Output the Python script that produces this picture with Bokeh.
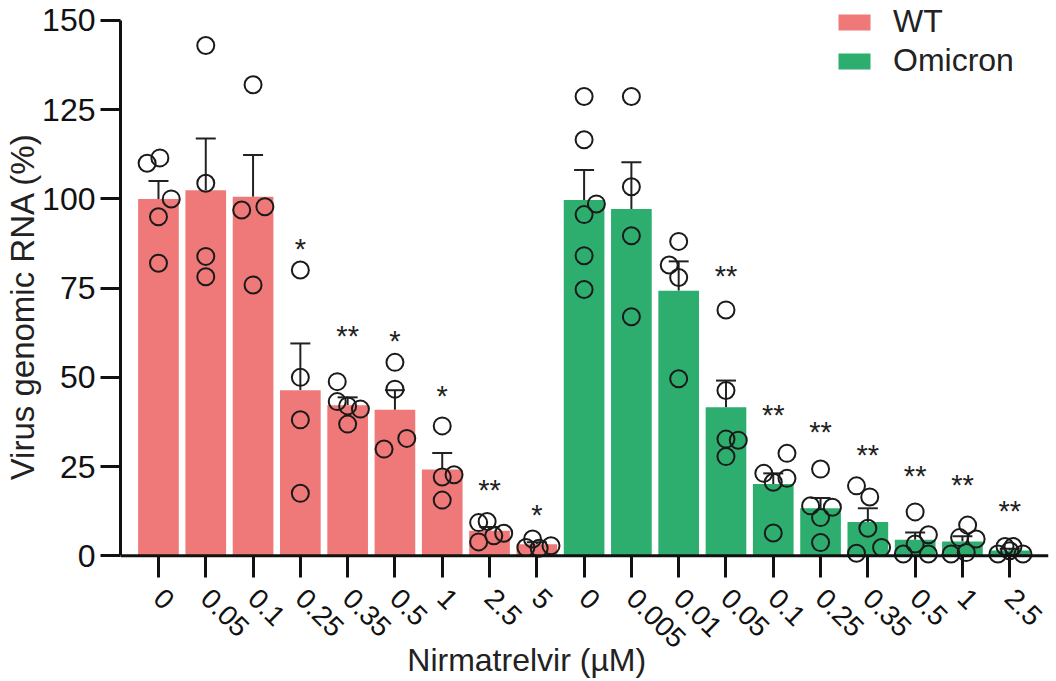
import math
from bokeh.plotting import figure
from bokeh.models import (ColumnDataSource, Range1d, FixedTicker, Whisker, TeeHead,
                          Legend, LegendItem, LinearAxis, Span)
from bokeh.core.properties import value
from bokeh.embed import file_html
from bokeh.resources import INLINE

# ---------------- data ----------------
doses = ["0", "0.05", "0.1", "0.25", "0.35", "0.5", "1", "2.5", "5",
         "0", "0.005", "0.01", "0.05", "0.1", "0.25", "0.35", "0.5", "1", "2.5"]
variant = ["WT"] * 9 + ["Omicron"] * 10
means = [100.0, 102.4, 100.6, 46.4, 42.2, 40.9, 24.2, 7.0, 3.2,
         99.7, 97.2, 74.3, 41.6, 20.1, 13.3, 9.5, 4.5, 4.0, 1.5]
sems = [5.0, 14.5, 11.7, 13.1, 2.2, 5.5, 4.6, 1.1, 0.6,
        8.4, 13.1, 8.2, 7.5, 3.0, 2.9, 3.8, 2.0, 1.5, 0.5]
stars = ["", "", "", "*", "**", "*", "*", "**", "*",
         "", "", "", "**", "**", "**", "**", "**", "**", "**"]
star_y = [0, 0, 0, 87.2, 62.6, 61.4, 46.0, 19.6, 12.6,
          0, 0, 0, 79.4, 40.6, 35.8, 29.4, 23.4, 21.0, 13.7]

# individual replicates: bar index, horizontal jitter (bar units), value
pt_bar = ([0] * 5 + [1] * 4 + [2] * 4 + [3] * 4 + [4] * 5 + [5] * 4 + [6] * 4 + [7] * 5 + [8] * 4 +
          [9] * 6 + [10] * 4 + [11] * 4 + [12] * 5 + [13] * 5 + [14] * 5 + [15] * 5 + [16] * 5 +
          [17] * 5 + [18] * 5)
pt_jitter = [-0.24, 0.03, 0.27, 0.0, 0.0,
             0.0, 0.0, 0.0, 0.0,
             0.0, -0.24, 0.25, 0.0,
             0.0, 0.0, 0.0, 0.0,
             -0.22, -0.22, 0.0, 0.27, 0.0,
             0.0, 0.0, -0.23, 0.25,
             0.0, 0.0, 0.25, 0.0,
             -0.23, -0.05, -0.23, 0.09, 0.3,
             -0.09, -0.23, 0.05, 0.3,
             0.0, 0.0, 0.0, 0.26, 0.0, 0.0,
             0.0, 0.0, 0.0, 0.0,
             0.0, -0.2, 0.0, 0.0,
             0.0, 0.0, 0.0, 0.26, 0.0,
             0.29, -0.2, 0.0, 0.29, 0.0,
             0.0, -0.21, 0.25, 0.0, 0.0,
             -0.24, 0.04, 0.0, -0.24, 0.29,
             0.0, 0.28, 0.0, -0.25, 0.28,
             0.11, -0.06, 0.29, -0.24, 0.08,
             -0.1, 0.07, -0.25, 0.0, 0.28]
pt_val = [110.0, 111.5, 100.0, 95.0, 82.0,
          143.0, 104.4, 83.9, 78.2,
          132.0, 96.9, 97.8, 75.9,
          80.1, 50.0, 38.1, 17.5,
          48.8, 43.2, 42.0, 41.1, 36.9,
          54.2, 46.7, 29.9, 32.9,
          36.4, 22.1, 22.7, 15.6,
          9.3, 9.6, 3.9, 5.6, 6.3,
          4.7, 2.3, 2.1, 2.8,
          128.7, 116.6, 95.6, 98.6, 84.1, 74.6,
          128.7, 103.4, 89.7, 67.0,
          88.1, 81.5, 78.0, 49.6,
          68.9, 46.3, 32.7, 32.4, 27.8,
          28.7, 23.1, 20.6, 21.7, 6.4,
          24.3, 14.0, 13.6, 10.7, 3.7,
          19.6, 16.5, 7.7, 0.7, 2.3,
          12.3, 5.9, 3.3, 0.5, 0.5,
          8.6, 5.1, 4.7, 0.5, 0.9,
          2.6, 2.6, 0.5, 1.4, 0.5]

y_ticks = [0, 25, 50, 75, 100, 125, 150]
colors = {"WT": "#EF7878", "Omicron": "#2DAE6F"}

# ---------------- figure ----------------
FONT = "Liberation Sans"
INK = "#111111"
xs = list(range(len(doses)))

p = figure(width=1056, height=681, output_backend="svg", toolbar_location=None,
           x_range=Range1d(-0.803, 18.82), y_range=Range1d(-3, 155.6),
           min_border_left=120, min_border_right=8, min_border_top=0, min_border_bottom=115)
p.outline_line_color = None
p.xgrid.grid_line_color = None
p.ygrid.grid_line_color = None
p.background_fill_color = "white"

renderers = {}
for v in ["WT", "Omicron"]:
    idx = [i for i in xs if variant[i] == v]
    src = ColumnDataSource(dict(x=idx, top=[means[i] for i in idx]))
    renderers[v] = p.vbar(x="x", top="top", bottom=0, width=0.86, source=src,
                          fill_color=colors[v], line_color=None)

err_src = ColumnDataSource(dict(x=xs, lo=means, hi=[m + s for m, s in zip(means, sems)]))
p.add_layout(Whisker(source=err_src, base="x", lower="lo", upper="hi",
                     line_color="#222222", line_width=2, lower_head=None,
                     upper_head=TeeHead(size=20, line_color="#222222", line_width=2)))

# x axis line at y = 0
p.add_layout(Span(location=0, dimension="width", line_color=INK, line_width=3))

pt_src = ColumnDataSource(dict(x=[pt_bar[k] + pt_jitter[k] for k in range(len(pt_val))], y=pt_val))
p.scatter("x", "y", source=pt_src, size=17, fill_color=None, line_color="#1a1a1a", line_width=2)

st_idx = [i for i in xs if stars[i]]
st_src = ColumnDataSource(dict(x=st_idx, y=[star_y[i] for i in st_idx], t=[stars[i] for i in st_idx]))
p.text("x", "y", text="t", source=st_src, text_align="center", text_baseline="middle",
       text_font=value(FONT), text_font_size="29px", text_color="#222222", y_offset=4)

# x axis (ticks + labels); its line is the Span above
xa = p.xaxis[0]
xa.ticker = FixedTicker(ticks=xs)
xa.major_label_overrides = {i: d for i, d in enumerate(doses)}
xa.major_label_orientation = -math.pi / 4
xa.axis_line_color = None
xa.major_tick_line_width = 3
xa.major_tick_line_color = INK
xa.major_tick_out = 11
xa.major_tick_in = 11
xa.minor_tick_line_color = None
xa.major_label_text_font = FONT
xa.major_label_text_font_size = "28px"
xa.major_label_text_color = INK
xa.major_label_standoff = 16

# second, label-only axis for the x title (padded so it sits left of centre as in the reference)
PAD = "\u00a0" * 13
xt = LinearAxis(ticker=FixedTicker(ticks=[]),
                axis_line_color=None, major_tick_line_color=None, minor_tick_line_color=None,
                major_label_text_font_size="0px",
                axis_label="Nirmatrelvir (µM)" + PAD, axis_label_text_font=FONT,
                axis_label_text_font_size="32px", axis_label_text_font_style="normal",
                axis_label_text_color="#222222", axis_label_standoff=-18)
p.add_layout(xt, "below")

ya = p.yaxis[0]
ya.bounds = (0, 150)
ya.ticker = FixedTicker(ticks=y_ticks)
ya.axis_line_width = 3
ya.axis_line_color = INK
ya.major_tick_line_width = 3
ya.major_tick_line_color = INK
ya.major_tick_out = 20
ya.major_tick_in = 0
ya.minor_tick_line_color = None
ya.major_label_text_font = FONT
ya.major_label_text_font_size = "32px"
ya.major_label_text_color = INK
ya.major_label_standoff = 5
ya.axis_label = "Virus genomic RNA (%)" + "\u00a0" * 5
ya.axis_label_text_font = FONT
ya.axis_label_text_font_size = "33px"
ya.axis_label_text_font_style = "normal"
ya.axis_label_text_color = "#222222"
ya.axis_label_standoff = -2

legend = Legend(items=[LegendItem(label="WT", renderers=[renderers["WT"]]),
                       LegendItem(label="Omicron", renderers=[renderers["Omicron"]])],
                location=(714, 487), padding=0, margin=0, spacing=2,
                glyph_width=40, glyph_height=20, label_standoff=19,
                border_line_color=None, background_fill_alpha=0,
                label_text_font=FONT, label_text_font_size="32px", label_text_color="#222222")
p.add_layout(legend)

open("out.html", "w").write(file_html(p, INLINE))
